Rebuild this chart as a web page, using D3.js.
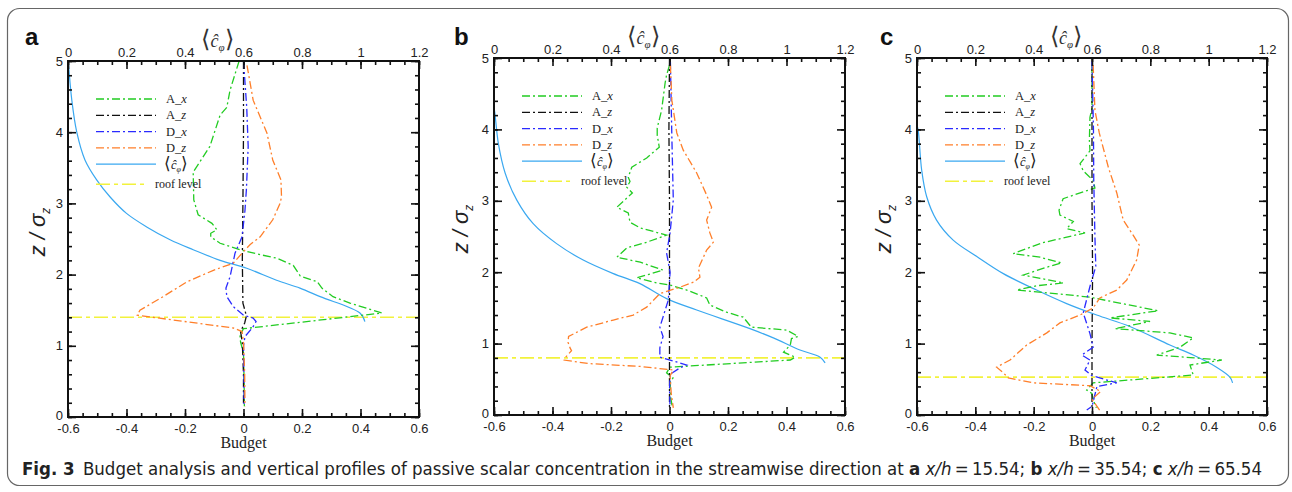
<!DOCTYPE html>
<html>
<head>
<meta charset="utf-8">
<script src="https://cdn.jsdelivr.net/npm/d3@7"></script>
<style>
body{margin:0;background:#fff;}
svg{display:block;}
.tick text{font-family:"Liberation Sans",Arial,sans-serif;font-size:13px;fill:#222;}
</style>
</head>
<body>
<script>
// ---- data: [budget, z/sigma_z] and [c, z/sigma_z] ----
var budgetTicks = [-0.6,-0.4,-0.2,0,0.2,0.4,0.6];
var concTicks = [0,0.2,0.4,0.6,0.8,1,1.2];
var zTicks = [0,1,2,3,4,5];

var a_Ax = [[-0.015,5.0],[-0.046,4.59],[-0.057,4.35],[-0.08,4.24],[-0.115,3.8],[-0.172,3.44],[-0.17,3.05],[-0.155,2.84],[-0.108,2.72],[-0.091,2.63],[-0.112,2.58],[-0.112,2.53],[-0.08,2.44],[-0.012,2.35],[0.057,2.28],[0.114,2.23],[0.17,2.13],[0.194,1.98],[0.252,1.9],[0.268,1.81],[0.306,1.69],[0.364,1.6],[0.473,1.46],[0.0,1.24],[-0.012,1.15],[-0.01,1.05],[0.0,0.9],[0.002,0.5],[0.003,0.15]];
var a_Az = [[0.0,5.0],[0.0,4.0],[-0.002,3.0],[-0.004,2.2],[-0.002,1.6],[0.01,1.42],[0.004,1.32],[-0.01,1.2],[-0.004,1.05],[0.0,0.6],[0.0,0.15]];
var a_Dx = [[0.0,5.0],[0.011,4.35],[0.016,3.8],[0.01,3.2],[0.005,2.9],[-0.005,2.53],[-0.029,2.3],[-0.046,1.97],[-0.06,1.81],[-0.057,1.69],[-0.035,1.55],[0.0,1.43],[0.033,1.39],[0.043,1.34],[0.03,1.25],[0.005,1.13],[0.0,1.0],[0.002,0.5],[0.002,0.15]];
var a_Dz = [[0.012,4.94],[0.033,4.45],[0.08,3.99],[0.1,3.61],[0.128,3.33],[0.13,3.09],[0.125,3.0],[0.1,2.77],[0.057,2.53],[0.022,2.42],[-0.005,2.3],[-0.035,2.16],[-0.103,2.06],[-0.193,1.9],[-0.275,1.69],[-0.354,1.5],[-0.363,1.43],[-0.035,1.25],[-0.005,1.2],[0.0,1.05],[0.004,0.6],[0.005,0.15]];
var a_C = [[0.001,5.0],[0.013,4.45],[0.03,4.0],[0.058,3.61],[0.098,3.33],[0.144,3.09],[0.2,2.86],[0.269,2.67],[0.349,2.49],[0.428,2.35],[0.52,2.2],[0.611,2.09],[0.713,1.92],[0.793,1.81],[0.862,1.69],[0.998,1.46],[1.015,1.34]];
var a_roof = 1.4;

var b_Ax = [[0.0,4.9],[-0.01,4.76],[-0.015,4.65],[-0.027,4.27],[-0.042,4.02],[-0.042,3.92],[-0.035,3.75],[-0.078,3.6],[-0.129,3.47],[-0.141,3.33],[-0.135,3.27],[-0.146,3.19],[-0.127,3.11],[-0.18,2.91],[-0.141,2.83],[-0.135,2.7],[-0.1,2.62],[-0.01,2.52],[-0.078,2.42],[-0.146,2.34],[-0.18,2.21],[-0.1,2.14],[-0.022,2.03],[-0.112,1.92],[-0.044,1.85],[0.002,1.82],[0.059,1.75],[0.127,1.64],[0.138,1.54],[0.195,1.44],[0.252,1.37],[0.28,1.23],[0.4,1.19],[0.44,1.1],[0.417,1.07],[0.413,0.98],[0.39,0.88],[0.43,0.81],[0.413,0.77],[0.002,0.67],[-0.01,0.59],[0.012,0.52],[0.002,0.45],[0.004,0.25],[0.01,0.1]];
var b_Az = [[0.0,5.0],[-0.002,4.0],[0.0,3.0],[0.0,2.0],[0.0,1.6],[0.0,1.0],[0.0,0.6],[0.0,0.1]];
var b_Dx = [[0.003,4.95],[0.008,3.9],[0.013,3.01],[0.002,2.55],[-0.01,2.27],[0.002,2.0],[-0.004,1.61],[-0.033,1.23],[-0.022,1.1],[-0.033,0.94],[-0.033,0.81],[0.002,0.77],[0.059,0.7],[0.036,0.66],[0.002,0.57],[0.0,0.36],[0.002,0.1]];
var b_Dz = [[0.003,4.9],[0.008,4.41],[0.025,3.95],[0.047,3.71],[0.093,3.39],[0.127,3.08],[0.144,2.91],[0.127,2.73],[0.138,2.55],[0.15,2.42],[0.127,2.31],[0.099,2.06],[0.104,1.93],[0.082,1.86],[0.036,1.79],[-0.033,1.7],[-0.078,1.51],[-0.124,1.4],[-0.192,1.33],[-0.283,1.23],[-0.345,1.1],[-0.347,1.02],[-0.34,0.94],[-0.335,0.9],[-0.355,0.81],[-0.36,0.77],[-0.276,0.72],[-0.1,0.68],[0.013,0.63],[0.002,0.55],[0.006,0.3],[0.013,0.1]];
var b_C = [[0.0,4.31],[0.003,4.23],[0.015,3.8],[0.038,3.39],[0.078,3.01],[0.134,2.68],[0.214,2.4],[0.305,2.17],[0.408,1.98],[0.499,1.84],[0.59,1.63],[0.693,1.47],[0.875,1.21],[0.955,1.08],[1.046,0.91],[1.115,0.81],[1.132,0.73]];
var b_roof = 0.8;

var c_Ax = [[0.0,4.9],[0.0,4.3],[-0.007,4.17],[-0.009,3.85],[-0.007,3.7],[-0.041,3.52],[-0.03,3.42],[-0.01,3.34],[0.004,3.29],[0.01,3.18],[-0.099,3.03],[-0.113,2.87],[-0.11,2.8],[-0.064,2.71],[-0.087,2.61],[-0.024,2.55],[-0.172,2.41],[-0.27,2.26],[-0.178,2.21],[-0.104,2.13],[-0.155,2.07],[-0.236,1.96],[-0.098,1.85],[-0.19,1.81],[-0.258,1.75],[-0.098,1.69],[-0.007,1.65],[0.227,1.46],[0.062,1.36],[0.199,1.31],[0.079,1.21],[0.267,1.15],[0.347,1.08],[0.302,0.95],[0.222,0.84],[0.445,0.77],[0.336,0.7],[0.347,0.56],[0.004,0.45],[-0.018,0.35],[0.0,0.3],[0.005,0.2],[0.015,0.1]];
var c_Az = [[0.0,5.0],[0.0,3.0],[0.002,2.0],[0.0,1.0],[0.0,0.5],[0.0,0.1]];
var c_Dx = [[0.0,4.95],[0.005,4.0],[0.006,3.3],[0.01,2.5],[0.013,2.08],[-0.007,1.8],[-0.03,1.43],[-0.007,1.14],[0.004,0.95],[-0.035,0.84],[-0.007,0.77],[-0.024,0.63],[0.0,0.55],[0.085,0.45],[0.017,0.4],[0.0,0.12],[-0.018,0.07]];
var c_Dz = [[0.004,4.9],[0.01,4.27],[0.025,3.95],[0.056,3.47],[0.085,3.11],[0.107,2.73],[0.141,2.52],[0.162,2.38],[0.153,2.17],[0.119,1.89],[0.085,1.75],[0.027,1.64],[0.004,1.5],[-0.041,1.4],[-0.11,1.29],[-0.155,1.15],[-0.224,0.98],[-0.281,0.77],[-0.327,0.67],[-0.304,0.59],[-0.287,0.52],[-0.201,0.45],[-0.007,0.41],[0.03,0.33],[0.0,0.22],[0.026,0.07]];
var c_C = [[0.0,4.05],[0.004,3.99],[0.016,3.43],[0.033,3.06],[0.067,2.73],[0.124,2.45],[0.205,2.22],[0.296,1.98],[0.41,1.75],[0.513,1.56],[0.616,1.4],[0.73,1.24],[0.867,0.98],[0.947,0.84],[1.027,0.67],[1.073,0.53],[1.082,0.45]];
var c_roof = 0.53;

var W = 1292, H = 492;
var svg = d3.select("body").append("svg").attr("width",W).attr("height",H);

// card border
svg.append("rect").attr("x",7.5).attr("y",8.5).attr("width",1281).attr("height",477)
    .attr("rx",12).attr("fill","#fff").attr("stroke","#666").attr("stroke-width",1.2);

var DASH = "8,3,2,3";
var series = [
    {key:"Ax", sub:"x", color:"#22cc22"},
    {key:"Az", sub:"z", color:"#111"},
    {key:"Dx", sub:"x", color:"#2a2aff"},
    {key:"Dz", sub:"z", color:"#ff7f2a"}
];

function fmt(d){ return String(+d.toFixed(1)); }

function minors(lo,hi,step){
    var out=[];
    for(var i=0;lo+i*step<=hi+1e-9;i++) out.push(+(lo+i*step).toFixed(4));
    return out;
}

function chatLabel(t, big, small, sub){
    t.append("tspan").attr("font-size",big).text("\u27E8");
    t.append("tspan").attr("font-style","italic").attr("font-size",small).text("\u0109");
    t.append("tspan").attr("font-style","italic").attr("font-size",sub).attr("dy",big*0.18).text("\u03C6");
    t.append("tspan").attr("font-size",big).attr("dy",-big*0.18).text("\u27E9");
}

function drawPanel(p){
    var g = svg.append("g");
    var xB = d3.scaleLinear().domain([-0.6,0.6]).range([p.left,p.right]);
    var xC = d3.scaleLinear().domain([0,1.2]).range([p.left,p.right]);
    var y = d3.scaleLinear().domain([0,5]).range([p.bottom,p.top]);

    var cid = "clip"+p.name;
    svg.append("clipPath").attr("id",cid).append("rect")
        .attr("x",p.left).attr("y",p.top).attr("width",p.right-p.left).attr("height",p.bottom-p.top);

    var plot = g.append("g").attr("clip-path","url(#"+cid+")");

    // roof level
    plot.append("line").attr("x1",p.left).attr("x2",p.right)
        .attr("y1",y(p.roof)).attr("y2",y(p.roof))
        .attr("stroke","#f2f23c").attr("stroke-width",1.6).attr("stroke-dasharray","14,4,4,4");

    var lineB = d3.line().x(function(d){return xB(d[0]);}).y(function(d){return y(d[1]);});
    var lineC = d3.line().x(function(d){return xC(d[0]);}).y(function(d){return y(d[1]);}).curve(d3.curveCatmullRom);

    plot.append("path").datum(p.C).attr("d",lineC).attr("fill","none")
        .attr("stroke","#3aa8f0").attr("stroke-width",1.2);

    series.forEach(function(s){
        plot.append("path").datum(p[s.key]).attr("d",lineB).attr("fill","none")
            .attr("stroke",s.color).attr("stroke-width",1.3).attr("stroke-dasharray",DASH);
    });

    // axes
    function styleAxis(ax){
        ax.select(".domain").remove();
        ax.selectAll(".tick line").attr("stroke","#111").attr("stroke-width",1.6);
    }
    var bx = g.append("g").attr("transform","translate(0,"+p.bottom+")")
        .call(d3.axisBottom(xB).tickValues(budgetTicks).tickSize(-8).tickPadding(7).tickFormat(fmt));
    styleAxis(bx);
    var bxm = g.append("g").attr("transform","translate(0,"+p.bottom+")")
        .call(d3.axisBottom(xB).tickValues(minors(-0.6,0.6,0.05)).tickSize(-4).tickFormat(""));
    styleAxis(bxm);
    var tx = g.append("g").attr("transform","translate(0,"+p.top+")")
        .call(d3.axisTop(xC).tickValues(concTicks).tickSize(-8).tickPadding(4).tickFormat(fmt));
    styleAxis(tx);
    var txm = g.append("g").attr("transform","translate(0,"+p.top+")")
        .call(d3.axisTop(xC).tickValues(minors(0,1.2,0.05)).tickSize(-4).tickFormat(""));
    styleAxis(txm);
    var ly = g.append("g").attr("transform","translate("+p.left+",0)")
        .call(d3.axisLeft(y).tickValues(zTicks).tickSize(-8).tickPadding(5).tickFormat(d3.format("d")));
    styleAxis(ly);
    // the "0" sits just above the bottom tick labels
    ly.selectAll(".tick text").filter(function(d){return d===0;}).attr("y",-2);
    var lym = g.append("g").attr("transform","translate("+p.left+",0)")
        .call(d3.axisLeft(y).tickValues(minors(0,5,0.2)).tickSize(-4).tickFormat(""));
    styleAxis(lym);
    var ry = g.append("g").attr("transform","translate("+p.right+",0)")
        .call(d3.axisRight(y).tickValues(zTicks).tickSize(-8).tickFormat(""));
    styleAxis(ry);
    var rym = g.append("g").attr("transform","translate("+p.right+",0)")
        .call(d3.axisRight(y).tickValues(minors(0,5,0.2)).tickSize(-4).tickFormat(""));
    styleAxis(rym);

    g.append("rect").attr("x",p.left).attr("y",p.top)
        .attr("width",p.right-p.left).attr("height",p.bottom-p.top)
        .attr("fill","none").attr("stroke","#111").attr("stroke-width",2);

    // titles
    g.append("text").attr("x",(p.left+p.right)/2).attr("y",p.bottom+31)
        .attr("text-anchor","middle").attr("font-family","Liberation Serif,Times New Roman,serif")
        .attr("font-size",16).attr("fill","#222").text("Budget");

    var yt = g.append("text")
        .attr("transform","translate("+p.ytx+","+(p.top+171)+") rotate(-90)")
        .attr("text-anchor","middle").attr("font-family","Liberation Sans,Arial,sans-serif")
        .attr("font-style","italic").attr("font-size",22).attr("fill","#222");
    yt.append("tspan").text("z / \u03C3");
    yt.append("tspan").attr("font-size",12).attr("dy",5).text("z");

    var tt = g.append("text").attr("x",(p.left+p.right)/2-26).attr("y",p.top-14)
        .attr("text-anchor","middle").attr("font-family","Liberation Serif,Times New Roman,serif").attr("fill","#333");
    chatLabel(tt,24,18,11);

    g.append("text").attr("x",p.letterX).attr("y",45)
        .attr("font-family","Liberation Sans,Arial,sans-serif").attr("font-weight","bold")
        .attr("font-size",24).attr("fill","#111").text(p.name);

    // legend
    var lx0 = p.left+28, lx1 = p.left+88, ly0 = p.top+38;
    var leg = g.append("g").attr("font-family","Liberation Serif,Times New Roman,serif").attr("fill","#222");
    series.forEach(function(s,i){
        var yy = ly0 + i*16.3;
        leg.append("line").attr("x1",lx0).attr("x2",lx1).attr("y1",yy).attr("y2",yy)
            .attr("stroke",s.color).attr("stroke-width",1.3).attr("stroke-dasharray",DASH);
        var t = leg.append("text").attr("x",lx1+10).attr("y",yy+4).attr("font-size",12.5);
        t.append("tspan").text(s.key.charAt(0)+"_");
        t.append("tspan").attr("font-style","italic").text(s.sub);
    });
    var yc = ly0 + 4*16.3;
    leg.append("line").attr("x1",lx0).attr("x2",lx1).attr("y1",yc).attr("y2",yc)
        .attr("stroke","#3aa8f0").attr("stroke-width",1.2);
    var ct = leg.append("text").attr("x",lx1+8).attr("y",yc+5);
    chatLabel(ct,17,12.5,8);
    var yr = ly0 + 4*16.3 + 20;
    leg.append("line").attr("x1",lx0).attr("x2",lx0+52).attr("y1",yr).attr("y2",yr)
        .attr("stroke","#f2f23c").attr("stroke-width",1.4).attr("stroke-dasharray","14,4,4,4");
    leg.append("text").attr("x",lx0+59).attr("y",yr+4).attr("font-size",12).text("roof level");
}

drawPanel({name:"a", left:68, right:419, top:61, bottom:417, letterX:25, ytx:45,
    Ax:a_Ax, Az:a_Az, Dx:a_Dx, Dz:a_Dz, C:a_C, roof:a_roof});
drawPanel({name:"b", left:494, right:845, top:58, bottom:415, letterX:454, ytx:468,
    Ax:b_Ax, Az:b_Az, Dx:b_Dx, Dz:b_Dz, C:b_C, roof:b_roof});
drawPanel({name:"c", left:917, right:1267, top:58, bottom:415, letterX:880, ytx:891,
    Ax:c_Ax, Az:c_Az, Dx:c_Dx, Dz:c_Dz, C:c_C, roof:c_roof});

// caption
var cap = svg.append("text").attr("x",22).attr("y",475)
    .attr("font-family","DejaVu Sans Condensed,Liberation Sans Narrow,Arial Narrow,sans-serif")
    .attr("font-size",17).attr("fill","#222")
    .attr("textLength",1240).attr("lengthAdjust","spacingAndGlyphs");
cap.append("tspan").attr("font-weight","bold").text("Fig. 3");
cap.append("tspan").text("\u2002Budget analysis and vertical profiles of passive scalar concentration in the streamwise direction at ");
cap.append("tspan").attr("font-weight","bold").text("a");
cap.append("tspan").attr("font-style","italic").text(" x/h");
cap.append("tspan").text("\u2009=\u200915.54; ");
cap.append("tspan").attr("font-weight","bold").text("b");
cap.append("tspan").attr("font-style","italic").text(" x/h");
cap.append("tspan").text("\u2009=\u200935.54; ");
cap.append("tspan").attr("font-weight","bold").text("c");
cap.append("tspan").attr("font-style","italic").text(" x/h");
cap.append("tspan").text("\u2009=\u200965.54");
</script>
</body>
</html>
